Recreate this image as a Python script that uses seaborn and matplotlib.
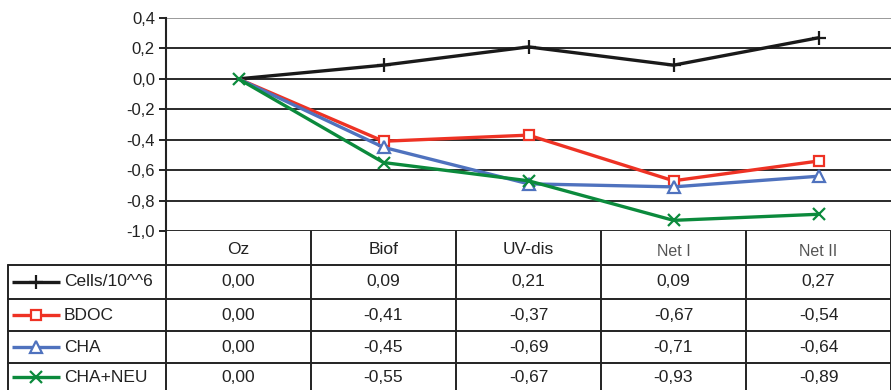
import matplotlib
matplotlib.use("Agg")
import matplotlib.pyplot as plt
import matplotlib.transforms as mtransforms
from matplotlib.ticker import FuncFormatter, FixedLocator
import seaborn as sns
import pandas as pd

categories = ["Oz", "Biof", "UV-dis", "Net I", "Net II"]
series_names = ["Cells/10^^6", "BDOC", "CHA", "CHA+NEU"]
cells = [0.00, 0.09, 0.21, 0.09, 0.27]
bdoc = [0.00, -0.41, -0.37, -0.67, -0.54]
cha = [0.00, -0.45, -0.69, -0.71, -0.64]
cha_neu = [0.00, -0.55, -0.67, -0.93, -0.89]
y_ticks = [0.4, 0.2, 0.0, -0.2, -0.4, -0.6, -0.8, -1.0]

series_values = [cells, bdoc, cha, cha_neu]
colors = ["#1a1a1a", "#ee3224", "#4f72be", "#0b8a3c"]
markers = ["+", "s", "^", "x"]
msizes = [10, 7, 8, 9]

sns.set_theme(style="white")
plt.rcParams["font.family"] = ["Liberation Sans", "DejaVu Sans"]

W, H = 891, 390
fig = plt.figure(figsize=(W / 100, H / 100), dpi=100)

# table background axes in pixel coords
ax_t = fig.add_axes([0, 0, 1, 1])
ax_t.set_xlim(0, W)
ax_t.set_ylim(H, 0)
ax_t.axis("off")

left_px, top_px, bottom_px = 166, 18, 231
ax = fig.add_axes([left_px / W, (H - bottom_px) / H, (W - left_px) / W, (bottom_px - top_px) / H])
ax.patch.set_alpha(0)

last = len(series_names) - 1
for k, (name, vals, c, m, ms) in enumerate(zip(series_names, series_values, colors, markers, msizes)):
    df = pd.DataFrame({"x": pd.Categorical(categories, categories=categories, ordered=True), "y": vals})
    mev = None if k == last else list(range(1, len(categories)))
    sns.lineplot(data=df, x="x", y="y", ax=ax, color=c, marker=m, markersize=ms,
                 markerfacecolor="white", markeredgecolor=c, markeredgewidth=1.6,
                 linewidth=2.4, sort=False, zorder=3, legend=False, markevery=mev)

ax.set_xlim(-0.5, len(categories) - 0.5)
ax.set_ylim(min(y_ticks), max(y_ticks))
ax.yaxis.set_major_locator(FixedLocator(y_ticks))
ax.yaxis.set_major_formatter(FuncFormatter(lambda v, p: f"{v:.1f}".replace(".", ",").replace("-0,0", "0,0")))
ax.set_xticks([])
ax.set_xlabel("")
ax.set_ylabel("")
for t in y_ticks:
    ax.axhline(t, color="#9a9a9a" if t == max(y_ticks) else "#2a2a2a", lw=1.4, zorder=1)
for s in ["top", "right", "bottom"]:
    ax.spines[s].set_visible(False)
ax.spines["left"].set_color("#222222")
ax.spines["left"].set_linewidth(1.5)
ax.tick_params(axis="y", direction="out", length=5, width=1.4, color="#222222",
               labelsize=12, labelcolor="#222222", pad=3, left=True)

# table
btr = mtransforms.blended_transform_factory(ax.transData, ax_t.transData)
row_edges = [231, 265, 299, 331, 363, 400]
line_kw = dict(color="#222222", lw=1.4, clip_on=False)
n = len(categories)
for i in range(n + 1):
    ax_t.plot([i - 0.5, i - 0.5], [row_edges[0], row_edges[-1]], transform=btr, **line_kw)
ax_t.plot([8, 8], [row_edges[1], row_edges[-1]], **line_kw)
for y in row_edges[1:-1]:
    ax_t.plot([8, W], [y, y], **line_kw)

# header
header_y = (row_edges[0] + row_edges[1]) / 2
for i, cat in enumerate(categories):
    if cat.startswith("Net"):
        ax_t.text(i, header_y + 3, cat, transform=btr, ha="center", va="center",
                  fontsize=11.5, color="#555555")
    else:
        ax_t.text(i, header_y + 1, cat, transform=btr, ha="center", va="center",
                  fontsize=12.5, color="#222222")

# rows
for r, (name, vals, c, m, ms) in enumerate(zip(series_names, series_values, colors, markers, msizes)):
    yc = (row_edges[r + 1] + row_edges[r + 2]) / 2
    if r == len(series_names) - 1:
        yc = 377
    ax_t.plot([12, 60], [yc, yc], color=c, lw=2.4, solid_capstyle="butt")
    ax_t.plot([36], [yc], marker=m, markersize=ms, color=c, markerfacecolor="white",
              markeredgecolor=c, markeredgewidth=1.6, linestyle="none")
    ax_t.text(64, yc, name, ha="left", va="center", fontsize=12.5, color="#222222")
    for i, v in enumerate(vals):
        ax_t.text(i, yc, f"{v:.2f}".replace(".", ","), transform=btr, ha="center",
                  va="center", fontsize=12.5, color="#222222")

fig.savefig("out.png", dpi=100)
